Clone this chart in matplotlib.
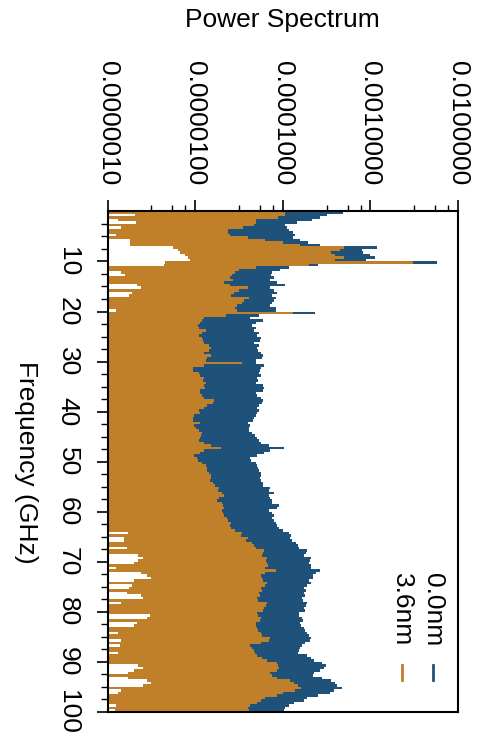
import numpy as np
import matplotlib
matplotlib.use("Agg")
import matplotlib.pyplot as plt
from matplotlib.ticker import FixedLocator, FixedFormatter

plt.rcParams['font.family'] = ['Liberation Sans', 'DejaVu Sans']

# spectrum bins, 0.5 GHz wide, starting at 0 GHz
bin_width = 0.5
freq_start = np.arange(0, 100, bin_width)

# log10 of the power spectrum
log_power_00 = [
    -3.31, -3.50, -3.57, -3.67, -3.84, -3.97, -3.95, -3.93, -3.88, -3.86,
    -3.88, -3.80, -3.71, -3.57, -2.93, -3.10, -3.08, -3.00, -2.95, -3.05,
    -2.24, -3.60, -3.93, -4.03, -4.12, -4.13, -4.10, -4.14, -4.06, -3.98,
    -4.14, -4.10, -4.06, -4.12, -4.08, -4.10, -4.12, -4.14, -4.08, -4.08,
    -3.63, -4.27, -4.37, -4.23, -4.31, -4.35, -4.31, -4.33, -4.27, -4.29,
    -4.25, -4.26, -4.33, -4.27, -4.29, -4.28, -4.25, -4.23, -4.24, -4.30,
    -4.31, -4.21, -4.25, -4.26, -4.27, -4.25, -4.29, -4.28, -4.31, -4.22,
    -4.21, -4.23, -4.31, -4.29, -4.25, -4.23, -4.24, -4.27, -4.29, -4.27,
    -4.29, -4.31, -4.33, -4.34, -4.40, -4.37, -4.38, -4.39, -4.35, -4.32,
    -4.29, -4.27, -4.25, -4.16, -3.99, -4.14, -4.21, -4.29, -4.37, -4.36,
    -4.31, -4.29, -4.28, -4.27, -4.25, -4.25, -4.26, -4.25, -4.23, -4.23,
    -4.14, -4.16, -4.10, -4.16, -4.14, -4.12, -4.12, -4.04, -4.06, -4.16,
    -4.12, -4.10, -4.12, -4.10, -4.08, -4.06, -4.04, -4.00, -3.93, -3.91,
    -3.92, -3.90, -3.85, -3.83, -3.81, -3.72, -3.74, -3.76, -3.68, -3.69,
    -3.70, -3.68, -3.68, -3.57, -3.62, -3.66, -3.66, -3.70, -3.68, -3.72,
    -3.76, -3.74, -3.76, -3.75, -3.78, -3.77, -3.72, -3.74, -3.76, -3.75,
    -3.81, -3.82, -3.78, -3.77, -3.80, -3.79, -3.76, -3.75, -3.72, -3.70,
    -3.68, -3.69, -3.75, -3.78, -3.80, -3.81, -3.83, -3.72, -3.68, -3.64,
    -3.55, -3.51, -3.53, -3.57, -3.64, -3.66, -3.55, -3.45, -3.40, -3.38,
    -3.32, -3.42, -3.46, -3.60, -3.72, -3.76, -3.87, -3.93, -3.97, -3.99,
]

log_power_36 = [
    -3.97, -3.97, -4.05, -4.30, -4.30, -4.33, -4.45, -4.62, -4.62, -4.60,
    -4.40, -4.20, -4.00, -3.80, -3.30, -3.35, -3.45, -3.40, -3.30, -3.40,
    -2.51, -3.70, -4.30, -4.50, -4.55, -4.58, -4.60, -4.57, -4.67, -4.60,
    -4.40, -4.50, -4.56, -4.59, -4.39, -4.44, -4.46, -4.52, -4.54, -4.52,
    -3.88, -4.65, -4.90, -4.92, -4.94, -4.97, -4.96, -4.88, -4.92, -4.96,
    -4.92, -4.91, -4.90, -4.84, -4.82, -4.84, -4.90, -4.82, -4.86, -4.88,
    -4.47, -4.90, -5.03, -5.02, -4.96, -4.94, -4.90, -4.91, -4.88, -4.90,
    -4.89, -4.94, -4.94, -4.92, -4.90, -4.78, -4.80, -4.86, -4.90, -4.96,
    -4.94, -5.01, -5.03, -5.02, -4.94, -5.01, -4.99, -4.96, -4.92, -4.93,
    -4.94, -4.96, -4.90, -4.82, -4.71, -4.90, -4.94, -5.01, -4.98, -4.97,
    -4.92, -4.88, -4.87, -4.86, -4.84, -4.82, -4.82, -4.83, -4.80, -4.77,
    -4.73, -4.74, -4.69, -4.67, -4.73, -4.75, -4.69, -4.68, -4.67, -4.69,
    -4.68, -4.67, -4.64, -4.63, -4.59, -4.60, -4.59, -4.54, -4.46, -4.48,
    -4.40, -4.42, -4.35, -4.33, -4.31, -4.21, -4.22, -4.24, -4.18, -4.19,
    -4.18, -4.17, -4.20, -4.08, -4.20, -4.25, -4.24, -4.22, -4.18, -4.20,
    -4.25, -4.24, -4.27, -4.26, -4.29, -4.28, -4.18, -4.19, -4.21, -4.22,
    -4.29, -4.28, -4.25, -4.26, -4.31, -4.30, -4.29, -4.28, -4.25, -4.24,
    -4.14, -4.16, -4.25, -4.37, -4.35, -4.33, -4.32, -4.29, -4.24, -4.18,
    -4.06, -4.05, -4.04, -4.07, -4.14, -4.12, -4.06, -3.92, -3.87, -3.83,
    -3.79, -3.86, -4.00, -4.06, -4.20, -4.25, -4.29, -4.37, -4.40, -4.38,
]

# lower end of each bar (log10), -6 = down to the axis
log_floor = [
    -6, -5.69, -6, -5.88, -5.68, -6, -5.85, -6, -6, -5.90,
    -6, -5.74, -5.74, -5.74, -5.25, -5.20, -5.17, -5.12, -5.08, -5.06,
    -5.34, -5.36, -6, -6, -5.85, -5.80, -6, -6, -6, -5.66,
    -5.62, -6, -5.72, -5.75, -6, -6, -6, -6, -6, -5.90,
    -6, -6, -6, -6, -6, -6, -6, -6, -6, -6,
    -6, -6, -6, -6, -6, -6, -6, -6, -6, -6,
    -6, -6, -6, -6, -6, -6, -6, -6, -6, -6,
    -6, -6, -6, -6, -6, -6, -6, -6, -6, -6,
    -6, -6, -6, -6, -6, -6, -6, -6, -6, -6,
    -6, -6, -6, -6, -6, -6, -6, -6, -6, -6,
    -6, -6, -6, -6, -6, -6, -6, -6, -6, -6,
    -6, -6, -6, -6, -6, -6, -6, -6, -6, -6,
    -6, -6, -6, -6, -6, -6, -6, -6, -5.77, -6,
    -5.81, -5.81, -6, -6, -5.78, -6, -6, -5.65, -5.60, -5.65,
    -5.70, -6, -5.90, -6, -5.62, -5.55, -5.50, -5.70, -6, -5.72,
    -5.75, -6, -5.78, -5.62, -5.60, -6, -5.85, -6, -6, -6,
    -6, -5.52, -5.55, -6, -5.66, -5.70, -6, -6, -5.88, -6,
    -6, -5.85, -6, -5.86, -6, -6, -5.88, -6, -6, -6,
    -6, -5.65, -5.60, -5.70, -5.77, -6, -5.77, -5.55, -5.50, -5.60,
    -6, -5.85, -5.88, -6, -6, -6, -6, -5.90, -6, -5.92,
]

series_labels = ['0.0nm', '3.6nm']
series_colors = ['#1f527b', '#c0802a']

power_ticks = [1e-6, 1e-5, 1e-4, 1e-3, 1e-2]
power_labels = ['0.0000010', '0.0000100', '0.0001000', '0.0010000', '0.0100000']
freq_ticks = [10, 20, 30, 40, 50, 60, 70, 80, 90, 100]

fig = plt.figure(figsize=(4.81, 7.39), dpi=100)
ax = fig.add_axes([0.2235, 0.0367, 0.7287, 0.6772])

low = 10 ** np.array(log_floor, dtype=float)
for vals, col in zip([log_power_00, log_power_36], series_colors):
    high = 10 ** np.array(vals)
    ax.barh(freq_start, high - low, left=low, height=bin_width, align='edge',
            color=col, linewidth=0)

ax.set_xscale('log')
ax.set_xlim(1e-6, 1e-2)
ax.set_ylim(100, 0)

# power axis on top, labels turned like the rest of the chart
ax.xaxis.tick_top()
ax.xaxis.set_major_locator(FixedLocator(power_ticks))
ax.xaxis.set_major_formatter(FixedFormatter(power_labels))
minor_x = [10 ** (d + o) for d in range(-6, -2) for o in (0.5, 0.74, 0.89)]
ax.xaxis.set_minor_locator(FixedLocator(minor_x))
ax.tick_params(axis='x', which='major', direction='out', length=8, width=1.2,
               pad=11, labelsize=19, labelrotation=-90)
ax.tick_params(axis='x', which='minor', direction='out', length=4, width=1.0)

ax.yaxis.set_major_locator(FixedLocator(freq_ticks))
ax.yaxis.set_minor_locator(FixedLocator(np.arange(2.5, 100, 2.5)))
ax.tick_params(axis='y', which='major', direction='out', length=8, width=1.2,
               pad=12, labelsize=19, labelrotation=-90)
ax.tick_params(axis='y', which='minor', direction='out', length=5, width=1.0)
for lab in ax.get_yticklabels():
    lab.set_ha('right')
    lab.set_va('center')

for sp in ax.spines.values():
    sp.set_linewidth(1.5)

# legend, turned by hand
leg_x = [0.929, 0.840]
for lx, lab, col in zip(leg_x, series_labels, series_colors):
    ax.text(lx, 0.278, lab, transform=ax.transAxes, rotation=-90,
            ha='center', va='top', fontsize=19)
    ax.plot([lx, lx], [0.094, 0.064], transform=ax.transAxes, color=col, lw=2)

fig.text(0.587, 1 - 20 / 739, 'Power Spectrum', ha='center', va='center', fontsize=19)
fig.text(26 / 481, 1 - 462 / 739, 'Frequency (GHz)', rotation=-90,
         ha='center', va='center', fontsize=19)

fig.savefig('out.png', dpi=100)
